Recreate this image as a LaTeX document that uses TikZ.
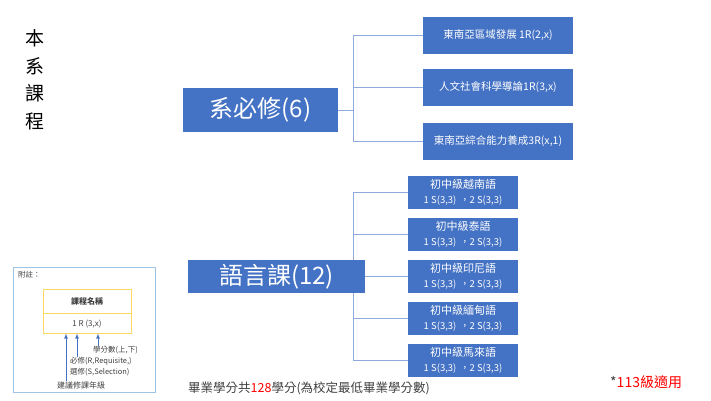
\documentclass[tikz,border=0pt]{standalone}
\usepackage{fontspec}
\setmainfont{Noto Sans CJK TC}
\usetikzlibrary{positioning,backgrounds}
\definecolor{boxblue}{HTML}{4472C4}
\definecolor{linkblue}{HTML}{8FAADC}
\definecolor{noteblue}{HTML}{9DC3E6}
\definecolor{noteyellow}{HTML}{FFD966}
\definecolor{darktext}{HTML}{404040}
\newcommand{\fsz}[1]{\fontsize{#1}{#1}\selectfont}
\newcommand{\lang}[1]{#1\\[4pt]{\fsz{9.5}1 S(3,3) \,，2 S(3,3)}}

\begin{document}
\begin{tikzpicture}[x=1pt,y=-1pt,
    groupbox/.style={fill=boxblue, text=white, inner sep=0pt, font=\fsz{24}},
    reqbox/.style={fill=boxblue, text=white, inner sep=0pt, minimum width=150pt, minimum height=37pt, font=\fsz{10.5}},
    langbox/.style={fill=boxblue, text=white, inner sep=0pt, minimum width=110pt, minimum height=33pt, align=center, font=\fsz{11}},
    link/.style={draw=linkblue, line width=0.8pt},
    pointer/.style={draw=boxblue, line width=0.8pt, -latex},
    tiny/.style={inner sep=0pt, font=\fsz{7.5}, text=darktext}]
    \useasboundingbox (0,0) rectangle (711,400);

    % title
    \node[align=center, font=\fsz{19}, text=black] (title) at (35,80)
      {本\\[8.5pt]系\\[8.5pt]課\\[8.5pt]程};

    % department requirement
    \node[groupbox, minimum width=155pt, minimum height=44pt] (req) at (260.5,110) {系必修(6)};
    \node[reqbox] (r1) at (498,35) {東南亞區域發展 1R(2,x)};
    \node[reqbox] (r2) at (498,87) {人文社會科學導論1R(3,x)};
    \node[reqbox] (r3) at (498,141.5) {東南亞綜合能力養成3R(x,1)};
    \coordinate (rj) at (353,110);

    % language courses
    \node[groupbox, minimum width=177pt, minimum height=33pt] (lang) at (276.5,276.5) {語言課(12)};
    \node[langbox] (l1) at (463,192) {\lang{初中級越南語}};
    \node[langbox] (l2) at (463,234) {\lang{初中級泰語}};
    \node[langbox] (l3) at (463,276.5) {\lang{初中級印尼語}};
    \node[langbox] (l4) at (463,318) {\lang{初中級緬甸語}};
    \node[langbox] (l5) at (463,360) {\lang{初中級馬來語}};
    \coordinate (lj) at (353,276.5);

    \begin{pgfonlayer}{background}
      \draw[link] (req.east) -- (rj);
      \draw[link] (rj) |- (r1.west);
      \draw[link] (rj) |- (r2.west);
      \draw[link] (rj) |- (r3.west);
      \draw[link] (lang.east) -- (l3.west);
      \draw[link] (lj) |- (l1.west);
      \draw[link] (lj) |- (l2.west);
      \draw[link] (lj) |- (l4.west);
      \draw[link] (lj) |- (l5.west);
    \end{pgfonlayer}

    % legend
    \node[draw=noteblue, line width=0.8pt, minimum width=142pt, minimum height=125pt, inner sep=0pt] (note) at (84,329.5) {};
    \node[tiny, anchor=west] (notetitle) at (18,275) {附註：};
    \node[draw=noteyellow, line width=0.8pt, minimum width=88pt, minimum height=24pt, inner sep=0pt, font=\fsz{8}\bfseries, text=darktext] (name) at (87,301) {課程名稱};
    \node[draw=noteyellow, line width=0.8pt, minimum width=88pt, minimum height=20pt, inner sep=0pt, font=\fsz{8}, text=darktext, below=0pt of name] (code) {1 R (3,x)};
    \node[tiny] (credit) at (115.5,350) {學分數(上,下)};
    \node[tiny, anchor=north west, align=left] (kind) at (70,357) {必修(R,Requisite,)\\[2pt]選修(S,Selection)};
    \node[tiny, font=\fsz{8}] (grade) at (81,385) {建議修課年級};
    \coordinate (t1) at (66,333.5);
    \coordinate (t2) at (77,333.5);
    \coordinate (t3) at (98,333.5);
    \draw[pointer] (grade.north -| t1) -- (t1);
    \draw[pointer] (kind.north -| t2) -- (t2);
    \draw[pointer] (credit.north -| t3) -- (t3);

    % footer
    \node[anchor=west, inner sep=0pt, font=\fsz{12.5}, text=darktext] (total) at (188,388)
      {畢業學分共\textcolor{red}{128}學分(為校定最低畢業學分數)};
    \node[anchor=west, inner sep=0pt, font=\fsz{14}, text=darktext] (cohort) at (610,382)
      {*\textcolor{red}{113級適用}};
\end{tikzpicture}
\end{document}
